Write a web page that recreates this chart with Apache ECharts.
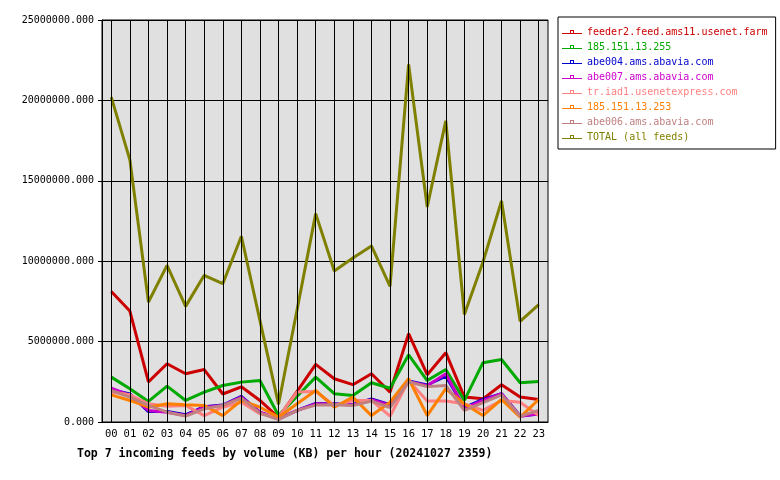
<!DOCTYPE html>
<html>
<head>
<meta charset="utf-8">
<script src="https://cdn.jsdelivr.net/npm/echarts@6/dist/echarts.min.js"></script>
<style>
  html, body { margin: 0; padding: 0; background: #fff; }
  #chart { width: 780px; height: 480px; }
</style>
</head>
<body>
<div id="chart"></div>
<script>
const hours = ['00', '01', '02', '03', '04', '05', '06', '07', '08', '09', '10', '11',
               '12', '13', '14', '15', '16', '17', '18', '19', '20', '21', '22', '23']

// values in millions of KB
const feeder2  = [8.12, 6.9, 2.5, 3.62, 3.0, 3.26, 1.74, 2.19, 1.34, 0.28, 1.9, 3.58, 2.69, 2.32, 3.0, 1.86, 5.49, 2.94, 4.31, 1.55, 1.44, 2.32, 1.55, 1.4]
const ip255    = [2.79, 2.07, 1.28, 2.23, 1.34, 1.86, 2.27, 2.48, 2.58, 0.4, 1.6, 2.79, 1.76, 1.65, 2.44, 2.1, 4.18, 2.58, 3.27, 1.34, 3.69, 3.89, 2.44, 2.52]
const abe004   = [2.0, 1.75, 0.65, 0.65, 0.45, 0.95, 1.05, 1.6, 0.6, 0.2, 0.72, 1.15, 1.13, 1.07, 1.44, 1.07, 2.55, 2.3, 2.85, 0.9, 1.4, 1.76, 0.38, 0.5]
const abe007   = [2.1, 1.65, 0.72, 0.61, 0.4, 0.92, 1.03, 1.55, 0.61, 0.2, 0.72, 1.13, 1.1, 1.07, 1.38, 1.05, 2.52, 2.25, 3.0, 0.85, 1.34, 1.76, 0.36, 0.51]
const iad1     = [1.86, 1.69, 1.13, 0.98, 1.03, 0.4, 0.92, 1.23, 0.51, 0.3, 1.86, 1.9, 1.03, 1.34, 1.34, 0.36, 2.58, 1.3, 1.3, 1.13, 0.72, 1.34, 1.23, 0.4]
const ip253    = [1.69, 1.34, 0.92, 1.13, 1.07, 1.03, 0.4, 1.34, 0.92, 0.3, 1.13, 1.96, 0.92, 1.55, 0.4, 1.23, 2.69, 0.4, 2.07, 1.13, 0.4, 1.4, 0.3, 1.4]
const abe006   = [1.96, 1.55, 1.03, 0.61, 0.37, 0.82, 1.03, 1.48, 0.55, 0.15, 0.72, 1.05, 1.07, 1.03, 1.3, 0.9, 2.5, 2.2, 2.27, 0.72, 1.2, 1.69, 0.36, 0.72]
const total    = [20.2, 16.3, 7.46, 9.74, 7.19, 9.12, 8.6, 11.55, 6.3, 1.1, 7.0, 12.96, 9.39, 10.2, 10.95, 8.44, 22.24, 13.37, 18.73, 6.69, 9.95, 13.75, 6.26, 7.3]

const feedNames  = ['feeder2.feed.ams11.usenet.farm', '185.151.13.255', 'abe004.ams.abavia.com', 'abe007.ams.abavia.com',
                    'tr.iad1.usenetexpress.com', '185.151.13.253', 'abe006.ams.abavia.com', 'TOTAL (all feeds)']
const feedValues = [feeder2, ip255, abe004, abe007, iad1, ip253, abe006, total]
const feedColors = ['#cc0000', '#00aa00', '#0000cc', '#cc00cc', '#ff8080', '#ff8000', '#c08080', '#808000']

const FONT = 'DejaVu Sans Mono, monospace'
// thin line with a small hollow square on it, like the rrd-style legend
const LEGEND_ICON = 'path://M0,3 H20 V4 H0 Z M8,0 H12 V3 H8 Z M9,1 V3 H11 V1 Z'

const chart = echarts.init(document.getElementById('chart'))

const series = feedValues.map((vals, i) => ({
  name: feedNames[i],
  type: 'line',
  data: vals.map(v => Math.round(v * 1000000)),
  showSymbol: false,
  animation: false,
  color: feedColors[i],
  lineStyle: { color: feedColors[i], width: 3 },
}))

// vertical grid lines at each hour
series.unshift({
  name: 'grid',
  type: 'line',
  data: [],
  z: 1,
  silent: true,
  animation: false,
  markLine: {
    silent: true,
    symbol: 'none',
    animation: false,
    label: { show: false },
    lineStyle: { color: '#000', width: 1, type: 'solid' },
    data: hours.map(h => ({ xAxis: h })),
  },
})

chart.setOption({
  animation: false,
  textStyle: { fontFamily: FONT },
  title: {
    text: 'Top 7 incoming feeds by volume (KB) per hour (20241027 2359)',
    left: 72,
    top: 443,
    textStyle: { fontFamily: FONT, fontSize: 11.5, fontWeight: 'bold', color: '#000' },
  },
  grid: {
    left: 102,
    right: 232,
    top: 20,
    bottom: 58,
    show: true,
    backgroundColor: '#e0e0e0',
    borderColor: '#000',
    borderWidth: 1,
  },
  xAxis: {
    type: 'category',
    data: hours,
    boundaryGap: true,
    axisLine: { lineStyle: { color: '#000', width: 1 } },
    axisTick: { alignWithLabel: true, length: 4, lineStyle: { color: '#000' } },
    axisLabel: { color: '#000', fontFamily: FONT, fontSize: 10.5, margin: 7 },
    splitLine: { show: false },
  },
  yAxis: {
    type: 'value',
    min: 0,
    max: 25000000,
    interval: 5000000,
    axisLine: { show: true, lineStyle: { color: '#000', width: 1 } },
    axisTick: { show: true, length: 4, lineStyle: { color: '#000' } },
    axisLabel: {
      color: '#000', fontFamily: FONT, fontSize: 10, margin: 8,
      formatter: v => v.toFixed(3),
    },
    splitLine: { show: true, lineStyle: { color: '#000', width: 1 } },
  },
  legend: {
    orient: 'vertical',
    left: 558,
    top: 17,
    padding: [9, 8, 6, 4],
    itemGap: 3,
    itemWidth: 20,
    itemHeight: 4,
    backgroundColor: '#fff',
    borderColor: '#000',
    borderWidth: 1,
    borderRadius: 0,
    selectedMode: false,
    data: feedNames.map((n, i) => ({
      name: n,
      icon: LEGEND_ICON,
      itemStyle: { color: feedColors[i] },
      textStyle: { color: feedColors[i], fontFamily: FONT, fontSize: 10, lineHeight: 12 },
    })),
  },
  series,
})
</script>
</body>
</html>
